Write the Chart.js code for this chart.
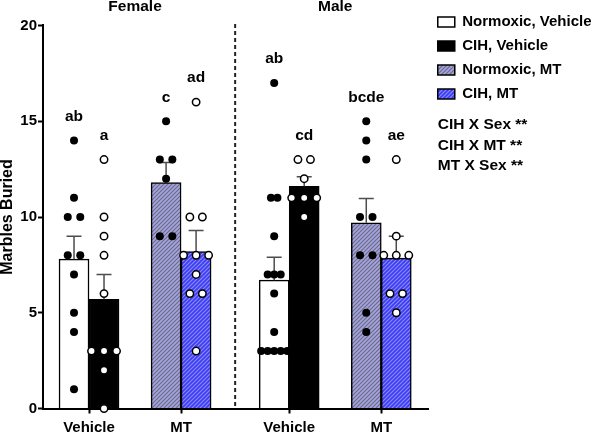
<!DOCTYPE html>
<html>
<head>
<meta charset="utf-8">
<script src="https://cdn.jsdelivr.net/npm/chart.js@4.4.0/dist/chart.umd.min.js"></script>
<style>
  html, body { margin: 0; padding: 0; background: #fff; }
  #wrap { width: 597px; height: 434px; }
</style>
</head>
<body>
<div id="wrap"><canvas id="marblesChart"></canvas></div>
<script>
// Categories
const groupLabels = ['Vehicle', 'MT', 'Vehicle', 'MT'];
const sexLabels = ['Female', 'Male'];
const seriesNames = ['Normoxic, Vehicle', 'CIH, Vehicle', 'Normoxic, MT', 'CIH, MT'];
const yTicks = [0, 5, 10, 15, 20];

// Marbles buried per animal, [female, male]
const normVehPoints = [[14, 11, 10, 10, 8, 8, 7, 5, 4, 1], [17, 11, 11, 9, 7, 7, 7, 6, 4, 3, 3, 3, 3, 3]];
const cihVehPoints = [[13, 10, 9, 8, 6, 3, 3, 3, 2, 0], [13, 13, 12, 11, 11, 11, 10]];
const normMtPoints = [[15, 13, 13, 12, 9, 9], [15, 14, 13, 10, 10, 8, 8, 5, 4]];
const cihMtPoints = [[16, 10, 10, 8, 8, 8, 7, 6, 6, 3], [13, 9, 8, 8, 8, 6, 6, 5]];

// Bar heights (mean) and error bars (SEM), [female, male]
const normVehMean = [7.8, 6.7];
const cihVehMean = [5.7, 11.6];
const normMtMean = [11.8, 9.7];
const cihMtMean = [8.2, 7.85];
const normVehSem = [1.2, 1.2];
const cihVehSem = [1.3, 0.5];
const normMtSem = [1.05, 1.27];
const cihMtSem = [1.1, 1.15];

// Significance letters, [female, male]
const normVehSig = ['ab', 'ab'];
const cihVehSig = ['a', 'cd'];
const normMtSig = ['c', 'bcde'];
const cihMtSig = ['ad', 'ae'];

const statLines = ['CIH X Sex **', 'CIH X MT **', 'MT X Sex **'];

// Layout: where each group sits on the linear x axis (males a bit further apart)
const GROUP_X = [0, 1, 2.174, 3.174];
const SEX_X = [0.5, 2.674];
const X_MIN = -0.5, X_MAX = 3.69;
const UNIT_PX = 92;      // approx pixels per x unit
const BAR_W = 30;
const VEH_GROUPS = [0, 2], MT_GROUPS = [1, 3];

const FONT = '"Liberation Sans", Arial, sans-serif';
Chart.defaults.font.family = FONT;
Chart.defaults.color = '#000';

function hatch(base, stripe) {
    const c = document.createElement('canvas');
    c.width = 4; c.height = 4;
    const g = c.getContext('2d');
    g.fillStyle = base;
    g.fillRect(0, 0, 4, 4);
    g.strokeStyle = stripe;
    g.lineWidth = 1.2;
    g.beginPath();
    g.moveTo(0, 4); g.lineTo(4, 0);
    g.moveTo(-1, 1); g.lineTo(1, -1);
    g.moveTo(3, 5); g.lineTo(5, 3);
    g.stroke();
    return g.createPattern(c, 'repeat');
}

function barPoints(means, groups) {
    return means.map((m, s) => ({ x: GROUP_X[groups[s]], y: m }));
}

// spread equal values side by side, like the dot plot in the figure
function dotPoints(perSex, groups, side) {
    const out = [];
    perSex.forEach((vals, s) => {
        const counts = {};
        vals.forEach(v => counts[v] = (counts[v] || 0) + 1);
        const maxDup = Math.max(...Object.values(counts));
        const gap = Math.min(12.5, 26 / Math.max(maxDup - 1, 1));
        const seen = {};
        const cx = GROUP_X[groups[s]] + side * (BAR_W / 2) / UNIT_PX;
        vals.forEach(v => {
            const k = seen[v] = (seen[v] || 0) + 1;
            const off = (k - 1 - (counts[v] - 1) / 2) * gap;
            out.push({ x: cx + off / UNIT_PX, y: v });
        });
    });
    return out;
}

const errorBarPlugin = {
    id: 'errorBars',
    afterDatasetDraw(chart, args) {
        const ds = chart.data.datasets[args.index];
        if (!ds.sem) return;
        const ctx = chart.ctx;
        const y = chart.scales.y;
        ctx.save();
        ctx.strokeStyle = '#4d4d4d';
        ctx.lineWidth = 1.5;
        args.meta.data.forEach((bar, i) => {
            const top = y.getPixelForValue(ds.data[i].y + ds.sem[i]);
            ctx.beginPath();
            ctx.moveTo(bar.x, bar.y);
            ctx.lineTo(bar.x, top);
            ctx.moveTo(bar.x - 7.5, top);
            ctx.lineTo(bar.x + 7.5, top);
            ctx.stroke();
        });
        ctx.restore();
    }
};

const annotatePlugin = {
    id: 'annotate',
    afterDraw(chart) {
        const { ctx, chartArea, scales: { x, y } } = chart;
        ctx.save();
        // dashed divider between female and male
        const xd = x.getPixelForValue((GROUP_X[1] + GROUP_X[2]) / 2);
        ctx.strokeStyle = '#222';
        ctx.lineWidth = 2;
        ctx.setLineDash([4, 3]);
        ctx.beginPath();
        ctx.moveTo(xd, chartArea.top - 1.5);
        ctx.lineTo(xd, chartArea.bottom - 2);
        ctx.stroke();
        ctx.setLineDash([]);

        // significance letters above each column
        ctx.fillStyle = '#000';
        ctx.font = 'bold 15.5px ' + FONT;
        ctx.textAlign = 'center';
        ctx.textBaseline = 'middle';
        chart.data.datasets.forEach((ds, di) => {
            if (!ds.sig) return;
            chart.getDatasetMeta(di).data.forEach((bar, i) => {
                const top = Math.max(...ds.pts[i]);
                ctx.fillText(ds.sig[i], bar.x, y.getPixelForValue(top + 1.25));
            });
        });

        // interaction stats under the legend
        const boxes = chart.legend.legendHitBoxes;
        const last = boxes[boxes.length - 1];
        const y0 = last.top + last.height / 2 + 31;
        ctx.textAlign = 'left';
        statLines.forEach((t, i) => ctx.fillText(t, boxes[0].left, y0 + i * 20.3));
        ctx.restore();
    }
};

const barCommon = { type: 'bar', borderColor: '#000', borderWidth: 1.5, barThickness: BAR_W, skipNull: true, order: 2 };
const dotCommon = { type: 'scatter', order: 1, clip: false, pointRadius: 4, pointHoverRadius: 4 };

const datasets = [
    { ...barCommon, label: seriesNames[0], data: barPoints(normVehMean, VEH_GROUPS), sem: normVehSem, pts: normVehPoints, sig: normVehSig, backgroundColor: '#ffffff' },
    { ...barCommon, label: seriesNames[1], data: barPoints(cihVehMean, VEH_GROUPS), sem: cihVehSem, pts: cihVehPoints, sig: cihVehSig, backgroundColor: '#000000' },
    { ...barCommon, label: seriesNames[2], data: barPoints(normMtMean, MT_GROUPS), sem: normMtSem, pts: normMtPoints, sig: normMtSig, backgroundColor: hatch('#a4a4e6', '#6c6c7c') },
    { ...barCommon, label: seriesNames[3], data: barPoints(cihMtMean, MT_GROUPS), sem: cihMtSem, pts: cihMtPoints, sig: cihMtSig, backgroundColor: hatch('#3c3cf0', '#8a8aff') },
    { ...dotCommon, label: 'nv', data: dotPoints(normVehPoints, VEH_GROUPS, -1), backgroundColor: '#000', borderColor: '#000', borderWidth: 0 },
    { ...dotCommon, label: 'cv', data: dotPoints(cihVehPoints, VEH_GROUPS, 1), backgroundColor: '#fff', borderColor: '#000', borderWidth: 1.5, pointRadius: 3.7 },
    { ...dotCommon, label: 'nm', data: dotPoints(normMtPoints, MT_GROUPS, -1), backgroundColor: '#000', borderColor: '#000', borderWidth: 0 },
    { ...dotCommon, label: 'cm', data: dotPoints(cihMtPoints, MT_GROUPS, 1), backgroundColor: '#fff', borderColor: '#000', borderWidth: 1.5, pointRadius: 3.7 }
];

const tickGrid = { display: true, offset: false, drawOnChartArea: false, drawTicks: true, tickLength: 5, tickWidth: 2, tickColor: '#000' };

new Chart(document.getElementById('marblesChart'), {
    type: 'bar',
    data: { datasets },
    plugins: [errorBarPlugin, annotatePlugin],
    options: {
        responsive: true,
        maintainAspectRatio: false,
        animation: false,
        events: [],
        layout: { padding: { top: -12.3, right: -4.5, left: 0, bottom: -8 } },
        plugins: {
            tooltip: { enabled: false },
            legend: {
                position: 'right',
                align: 'start',
                maxWidth: 230,
                // empty title only pushes the keys down a little
                title: { display: true, text: '', font: { size: 1, lineHeight: 1 }, padding: { top: 16.8, bottom: 0 } },
                labels: {
                    boxWidth: 17,
                    boxHeight: 10,
                    padding: 9,
                    color: '#000',
                    font: { size: 15, weight: 'bold' },
                    filter: item => item.datasetIndex < 4
                }
            }
        },
        scales: {
            x: {
                type: 'linear',
                min: X_MIN,
                max: X_MAX,
                bounds: 'data',
                offset: false,
                afterBuildTicks: s => { s.ticks = GROUP_X.map(v => ({ value: v })); },
                ticks: {
                    autoSkip: false,
                    maxRotation: 0,
                    padding: 6.75,
                    color: '#000',
                    font: { size: 15, weight: 'bold', lineHeight: 1 },
                    callback: (v, i) => groupLabels[i]
                },
                grid: tickGrid,
                border: { display: true, color: '#000', width: 2 }
            },
            xTop: {
                type: 'linear',
                position: 'top',
                min: X_MIN,
                max: X_MAX,
                bounds: 'data',
                offset: false,
                afterBuildTicks: s => { s.ticks = SEX_X.map(v => ({ value: v })); },
                ticks: {
                    autoSkip: false,
                    maxRotation: 0,
                    padding: 9.6,
                    color: '#000',
                    font: { size: 15.5, weight: 'bold', lineHeight: 1.2 },
                    callback: (v, i) => sexLabels[i]
                },
                grid: { display: false, drawTicks: false, tickLength: 0 },
                border: { display: false }
            },
            y: {
                min: 0,
                max: 20,
                afterBuildTicks: s => { s.ticks = yTicks.map(v => ({ value: v })); },
                ticks: { padding: 1, color: '#000', font: { size: 15, weight: 'bold' } },
                grid: tickGrid,
                border: { display: true, color: '#000', width: 2 },
                title: {
                    display: true,
                    text: 'Marbles Buried',
                    color: '#000',
                    font: { size: 16, weight: 'bold', lineHeight: 1 },
                    padding: { top: 0, bottom: 3.3 }
                }
            }
        }
    }
});
</script>
</body>
</html>
